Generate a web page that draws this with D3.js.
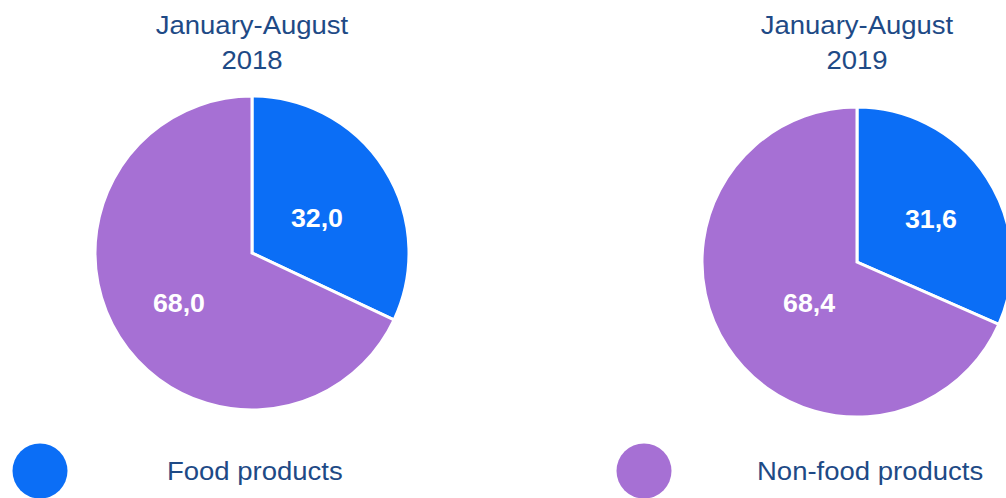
<!DOCTYPE html>
<html><head><meta charset="utf-8">
<script src="https://cdn.jsdelivr.net/npm/d3@7"></script>
<style>html,body{margin:0;padding:0;background:#fff;}svg{display:block;}</style>
</head><body>
<svg id="chart" width="1006" height="498"></svg>
<script>
const categories = ["Food products", "Non-food products"];
const periods = ["January-August\n2018", "January-August\n2019"];
const values2018 = [32.0, 68.0];
const values2019 = [31.6, 68.4];
const series = [values2018, values2019];
const colors = ["#0b6ef6", "#a670d4"];

const svg = d3.select("#chart");
const font = "'Liberation Sans', Arial, sans-serif";
const textColor = "#1e4a86";
const centers = [[252, 253], [857, 262]];
const radii = [157, 155];
const labelR = [[74, 88], [86, 63]];
const labelRot = [[3.8, -1.5], [2.4, -7.4]];
const fmt = v => d3.format(".1f")(v).replace(".", ",");

const pie = d3.pie().sort(null).value(d => d);

series.forEach((vals, i) => {
  const [cx, cy] = centers[i];
  const g = svg.append("g").attr("transform", `translate(${cx},${cy})`);
  const arc = d3.arc().innerRadius(0).outerRadius(radii[i]);
  const arcs = pie(vals);
  g.selectAll("path").data(arcs).join("path")
    .attr("d", arc)
    .attr("fill", (d, j) => colors[j])
    .attr("stroke", "#fff").attr("stroke-width", 3).attr("stroke-linejoin", "miter");
  arcs.forEach((d, j) => {
    const mid = (d.startAngle + d.endAngle) / 2 + labelRot[i][j] * Math.PI / 180;
    const r = labelR[i][j];
    const x = r * Math.sin(mid), y = -r * Math.cos(mid);
    g.append("text")
      .attr("transform", `translate(${x},${y + 9.5}) scale(1.03,1)`)
      .attr("text-anchor", "middle")
      .attr("font-family", font).attr("font-weight", "bold").attr("font-size", 26)
      .attr("fill", "#fff")
      .text(fmt(d.data));
  });
  const lines = periods[i].split("\n");
  lines.forEach((t, k) => {
    svg.append("text")
      .attr("transform", `translate(${centers[i][0]},${34 + k * 35}) scale(1.1,1)`)
      .attr("text-anchor", "middle")
      .attr("font-family", font).attr("font-size", 25)
      .attr("fill", textColor)
      .text(t);
  });
});

const legendPos = [[40, 471, 167], [644, 471, 757]];
categories.forEach((c, j) => {
  const [x, y, tx] = legendPos[j];
  svg.append("circle").attr("cx", x).attr("cy", y).attr("r", 27.5).attr("fill", colors[j]);
  svg.append("text")
    .attr("transform", `translate(${tx},${480}) scale(1.1,1)`)
    .attr("font-family", font).attr("font-size", 25)
    .attr("fill", textColor)
    .text(c);
});
</script>
</body></html>
